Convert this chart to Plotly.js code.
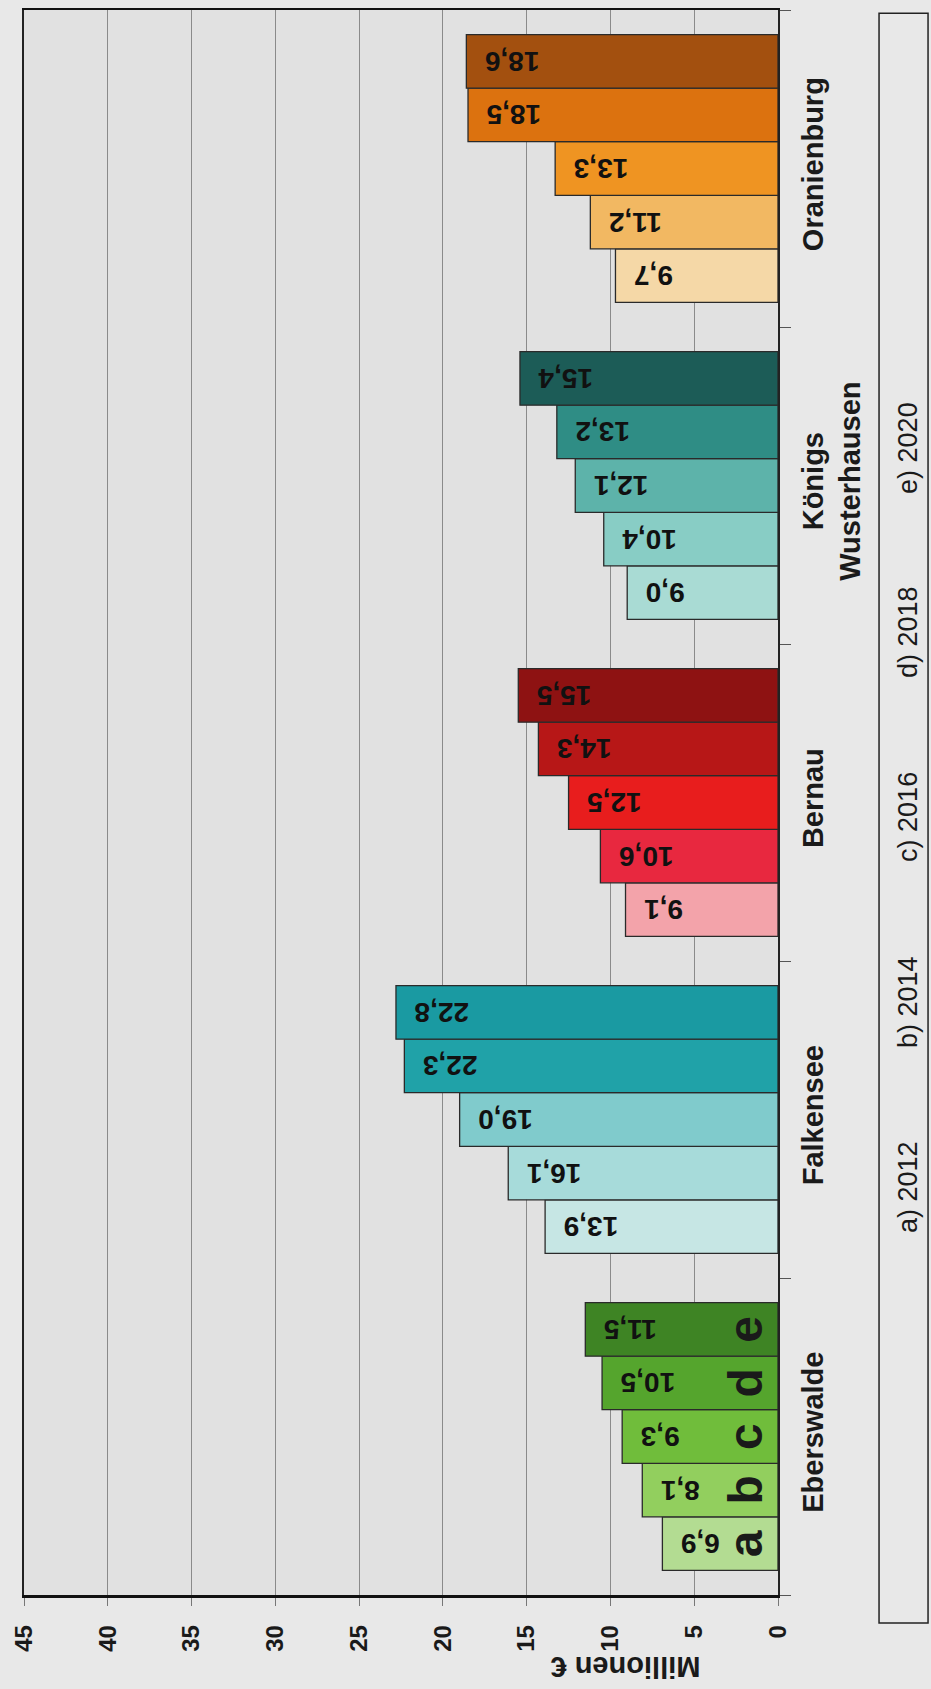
<!DOCTYPE html>
<html>
<head>
<meta charset="utf-8">
<script src="https://cdn.plot.ly/plotly-3.0.1.min.js"></script>
<style>
  html, body { margin: 0; padding: 0; background: #e8e8e8; }
  #chart { width: 931px; height: 1689px; }
</style>
</head>
<body>
<div id="chart"></div>
<script>
// ---- data ----
const categories = ['Eberswalde', 'Falkensee', 'Bernau', 'Königs<br>Wusterhausen', 'Oranienburg'];
const years = ['2012', '2014', '2016', '2018', '2020'];
const letters = ['a', 'b', 'c', 'd', 'e'];

const values2012 = [6.9, 13.9, 9.1, 9.0, 9.7];
const values2014 = [8.1, 16.1, 10.6, 10.4, 11.2];
const values2016 = [9.3, 19.0, 12.5, 12.1, 13.3];
const values2018 = [10.5, 22.3, 14.3, 13.2, 18.5];
const values2020 = [11.5, 22.8, 15.5, 15.4, 18.6];

const colors2012 = ['#b3dc92', '#c6e6e4', '#f3a3aa', '#a9dbd4', '#f5d8a7'];
const colors2014 = ['#92cf5e', '#a7dbda', '#e8283f', '#88cdc5', '#f2b862'];
const colors2016 = ['#70bd3b', '#80cbcc', '#e81d1d', '#5db3aa', '#ef9422'];
const colors2018 = ['#55a52d', '#20a2a8', '#b71717', '#2f8d85', '#dc720f'];
const colors2020 = ['#3e8424', '#1a9aa2', '#8e1212', '#1c5c57', '#a3500f'];

const xTicks = [0, 5, 10, 15, 20, 25, 30, 35, 40, 45];
const axisTitle = 'Millionen €';

// ---- build ----
const seriesValues = [values2012, values2014, values2016, values2018, values2020];
const seriesColors = [colors2012, colors2014, colors2016, colors2018, colors2020];
const FONT = 'Liberation Sans, Arial, Helvetica, sans-serif';
const NB = '\u00a0';

const traces = seriesValues.map((vals, i) => ({
  type: 'bar',
  orientation: 'h',
  name: letters[i] + ') ' + years[i],
  y: categories,
  x: vals,
  marker: { color: seriesColors[i], line: { color: '#2a2a2a', width: 1.3 } },
  texttemplate: '%{x:.1f}' + NB + NB,
  textposition: 'inside',
  insidetextanchor: 'end',
  textangle: 180,
  insidetextfont: { family: FONT, size: 28, color: '#111', weight: 'bold' },
  constraintext: 'none',
  hoverinfo: 'skip'
}));

const bargap = 0.155;
const nS = seriesValues.length;
const barW = (1 - bargap) / nS;

const annotations = [];
// letters a-e inside the first group's bars
letters.forEach((L, i) => {
  annotations.push({
    xref: 'x', yref: 'y',
    x: 0, y: 0 - (1 - bargap) / 2 + barW * (i + 0.5),
    text: L, showarrow: false, textangle: -90,
    xanchor: 'right', yanchor: 'middle', xshift: -4,
    font: { family: FONT, size: 48, color: '#1a1a1a', weight: 'bold' }
  });
});
// axis title (upside down)
annotations.push({
  xref: 'paper', yref: 'paper', x: 0.798, y: -0.045,
  text: axisTitle, showarrow: false, textangle: 180,
  xanchor: 'center', yanchor: 'middle',
  font: { family: FONT, size: 29, color: '#1a1a1a', weight: 'bold' }
});
// legend texts
const legendY = [0.2574, 0.3741, 0.4909, 0.6076, 0.7237];
years.forEach((yr, i) => {
  annotations.push({
    xref: 'paper', yref: 'paper', x: 1.1724, y: legendY[i],
    text: letters[i] + ') ' + yr, showarrow: false, textangle: -90,
    xanchor: 'center', yanchor: 'middle',
    font: { family: FONT, size: 27, color: '#1a1a1a' }
  });
});

const layout = {
  width: 931, height: 1689,
  margin: { l: 24, r: 153, t: 10, b: 94, pad: 0 },
  paper_bgcolor: '#e8e8e8',
  plot_bgcolor: '#e1e1e1',
  barmode: 'group', bargap: bargap, bargroupgap: 0,
  separators: ',.',
  showlegend: false,
  font: { family: FONT, color: '#1a1a1a' },
  xaxis: {
    range: [45, 0], tickmode: 'array', tickvals: xTicks, ticktext: xTicks.map(String),
    tickangle: -90, ticks: 'outside', ticklen: 8, tickcolor: '#777', tickwidth: 1,
    showgrid: true, gridcolor: '#8a8a8a', gridwidth: 1, zeroline: false,
    showline: true, linecolor: '#111', linewidth: 2.5, mirror: true,
    tickfont: { family: FONT, size: 24, color: '#1a1a1a', weight: 'bold' },
    ticklabelstandoff: 10, fixedrange: true
  },
  yaxis: {
    type: 'category', categoryorder: 'array', categoryarray: categories,
    side: 'right', tickangle: -90, ticks: 'outside', tickson: 'boundaries',
    ticklen: 11, tickcolor: '#555', tickwidth: 1,
    showline: true, linecolor: '#222', linewidth: 2, mirror: true, showgrid: false,
    tickfont: { family: FONT, size: 29, color: '#1a1a1a', weight: 'bold' },
    ticklabelstandoff: 8, fixedrange: true
  },
  shapes: [{
    type: 'rect', xref: 'paper', yref: 'paper',
    x0: 1.134, x1: 1.199, y0: -0.0177, y1: 0.998,
    line: { color: '#222', width: 1.5 }, fillcolor: 'rgba(0,0,0,0)'
  }],
  annotations: annotations
};

Plotly.newPlot('chart', traces, layout, { displayModeBar: false, staticPlot: true });
</script>
</body>
</html>
